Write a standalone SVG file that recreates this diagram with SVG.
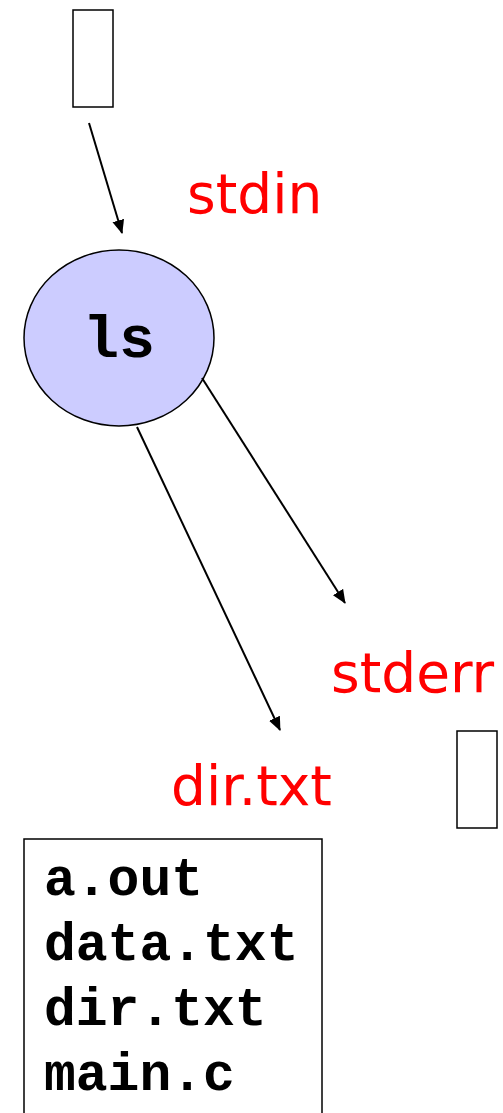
<svg xmlns="http://www.w3.org/2000/svg" width="503" height="1113" viewBox="0 0 503 1113">
<style>
.box{fill:#fff;stroke:#000;stroke-width:1.5}
.lbl{font-family:"DejaVu Sans",Verdana,sans-serif;font-size:55px;fill:#ff0000}
.mono{font-family:"Liberation Mono","Courier New",monospace;font-weight:bold;fill:#000}
.edge{stroke:#000;stroke-width:2;fill:none;marker-end:url(#ah)}
</style>
<defs>
<marker id="ah" markerWidth="14" markerHeight="14" viewBox="0 0 14 14" refX="13" refY="7" orient="auto" markerUnits="userSpaceOnUse">
<path d="M0,1 L14,7 L0,13 Z" fill="#000"/>
</marker>
</defs>
<g id="stdin-src"><rect class="box" x="73" y="10" width="40" height="97"/></g>
<g id="stdin-label"><text class="lbl" x="187" y="213">stdin</text></g>
<g id="ls">
<ellipse cx="119" cy="338" rx="95" ry="88" fill="#ccccff" stroke="#000" stroke-width="1.5"/>
<text class="mono" x="119" y="357" font-size="60" text-anchor="middle">ls</text>
</g>
<g id="stderr-label"><text class="lbl" x="331" y="692">stderr</text></g>
<g id="stderr-dst"><rect class="box" x="457" y="731" width="40" height="97"/></g>
<g id="dirtxt-label"><text class="lbl" x="171" y="805">dir.txt</text></g>
<g id="dirtxt">
<rect class="box" x="24" y="839" width="298" height="290"/>
<text class="mono" font-size="53" x="44" y="895">a.out</text>
<text class="mono" font-size="53" x="44" y="960">data.txt</text>
<text class="mono" font-size="53" x="44" y="1025">dir.txt</text>
<text class="mono" font-size="53" x="44" y="1090">main.c</text>
</g>
<g id="connectors">
<line class="edge" x1="89" y1="123" x2="122" y2="233"/>
<line class="edge" x1="202" y1="378" x2="345" y2="603"/>
<line class="edge" x1="137" y1="427" x2="280" y2="730"/>
</g>
</svg>
